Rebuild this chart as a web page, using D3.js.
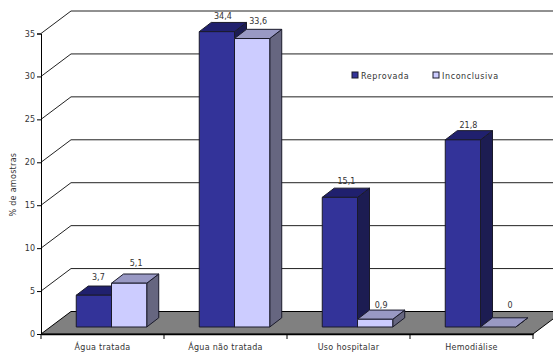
<!DOCTYPE html>
<html>
<head>
<meta charset="utf-8">
<script src="https://cdn.jsdelivr.net/npm/d3@7"></script>
<style>
    html, body { margin: 0; padding: 0; background: #fff; }
    svg { display: block; }
    text { font-family: "DejaVu Sans", Verdana, sans-serif; font-size: 8px; fill: #333; }
    .tick-x text { letter-spacing: 0.3px; }
    .legend text { letter-spacing: 0.6px; }
</style>
</head>
<body>
<svg id="chart"></svg>
<script>
const categories = ['Água tratada', 'Água não tratada', 'Uso hospitalar', 'Hemodiálise'];
const seriesNames = ['Reprovada', 'Inconclusiva'];
const reprovada = [3.7, 34.4, 15.1, 21.8];
const inconclusiva = [5.1, 33.6, 0.9, 0];
const yTicks = [0, 5, 10, 15, 20, 25, 30, 35];

const width = 553;
const height = 352;
const margin = { left: 41, right: 20, top: 33.5, bottom: 18 };

// depth of the plot box, and of the bars standing inside it
const depthX = 30, depthY = 22.5;
const barDepthX = 12, barDepthY = 9.2;
const barInsetX = 9, barInsetY = 7;

// hand placement of the value labels, per bar in drawing order
const labelLift = [6.5, 8.5, 3, 5, 4, 2, 3, 10];
const labelShift = [4.5, 7, 6, 6, 6.5, 6, 5.5, 12];

const colors = {
    Reprovada: { front: '#333399', top: '#20206e', side: '#1c1c52' },
    Inconclusiva: { front: '#ccccff', top: '#9999c4', side: '#666680' }
};

const svg = d3.select('#chart').attr('width', width).attr('height', height);

const x = d3.scaleBand()
    .domain(categories)
    .range([margin.left, width - margin.right]);

const xSeries = d3.scaleBand()
    .domain(seriesNames)
    .range([0, x.bandwidth()])
    .paddingOuter(0.745)
    .paddingInner(0);

const y = d3.scaleLinear()
    .domain([0, 35])
    .range([height - margin.bottom, margin.top]);

const pathOf = pts => d3.line()(pts) + 'Z';

// floor
const x0 = x.range()[0], x1 = x.range()[1], y0 = y(0);
svg.append('path')
    .attr('d', pathOf([[x0, y0], [x0 + depthX, y0 - depthY], [x1 + depthX, y0 - depthY], [x1, y0]]))
    .attr('fill', '#808080')
    .attr('stroke', '#000')
    .attr('stroke-width', 1);

// gridlines on the side wall and back wall
svg.append('g')
    .selectAll('path')
    .data(yTicks.filter(d => d > 0))
    .enter()
    .append('path')
    .attr('d', d => d3.line()([[x0, y(d)], [x0 + depthX, y(d) - depthY], [width, y(d) - depthY]]))
    .attr('fill', 'none')
    .attr('stroke', '#222')
    .attr('stroke-width', 1);

const rows = [];
categories.forEach((c, i) => {
    rows.push({ category: c, series: 'Reprovada', value: reprovada[i] });
    rows.push({ category: c, series: 'Inconclusiva', value: inconclusiva[i] });
});

const bars = svg.append('g')
    .selectAll('g')
    .data(rows)
    .enter()
    .append('g');

bars.each(function(d) {
    const g = d3.select(this);
    const left = x(d.category) + xSeries(d.series) + barInsetX;
    const right = left + xSeries.bandwidth();
    const base = y0 - barInsetY;
    const top = y(d.value) - barInsetY;
    const c = colors[d.series];

    g.append('path')
        .attr('d', pathOf([[right, base], [right + barDepthX, base - barDepthY], [right + barDepthX, top - barDepthY], [right, top]]))
        .attr('fill', c.side);
    g.append('path')
        .attr('d', pathOf([[left, top], [left + barDepthX, top - barDepthY], [right + barDepthX, top - barDepthY], [right, top]]))
        .attr('fill', c.top);
    if (d.value > 0) {
        g.append('rect')
            .attr('x', left)
            .attr('y', top)
            .attr('width', right - left)
            .attr('height', base - top)
            .attr('fill', c.front);
    }
    g.selectAll('path, rect')
        .attr('stroke', '#1a1a2a')
        .attr('stroke-width', 1)
        .attr('stroke-linejoin', 'round');
});

// value labels, decimal comma as printed
svg.append('g')
    .selectAll('text')
    .data(rows)
    .enter()
    .append('text')
    .attr('text-anchor', 'middle')
    .attr('x', (d, i) => x(d.category) + xSeries(d.series) + barInsetX + xSeries.bandwidth() / 2 + labelShift[i])
    .attr('y', (d, i) => y(d.value) - barInsetY - barDepthY - labelLift[i])
    .text(d => String(d.value).replace('.', ','));

// axes
const yAxis = svg.append('g')
    .attr('transform', `translate(${x0},0)`)
    .call(d3.axisLeft(y).tickValues(yTicks).tickSize(4).tickPadding(2).tickFormat(d3.format('d')));
yAxis.select('.domain').attr('stroke', '#000');
yAxis.selectAll('line').attr('stroke', '#000');

const xAxis = svg.append('g')
    .attr('class', 'tick-x')
    .attr('transform', `translate(0,${y0})`)
    .call(d3.axisBottom(x).tickSize(0).tickPadding(10));
xAxis.select('.domain').attr('stroke', '#000').attr('stroke-width', 1.5);

// category separators sit between the bands, not at their centres
xAxis.append('g')
    .selectAll('line')
    .data(d3.range(categories.length + 1))
    .enter()
    .append('line')
    .attr('x1', i => x0 + i * x.step())
    .attr('x2', i => x0 + i * x.step())
    .attr('y1', 0)
    .attr('y2', 5)
    .attr('stroke', '#000');

svg.append('text')
    .attr('transform', `translate(16,${y(17.4)}) rotate(-90)`)
    .attr('text-anchor', 'middle')
    .attr('letter-spacing', 0.3)
    .text('% de amostras');

// legend
const legendX = d3.scaleOrdinal().domain(seriesNames).range([352, 433]);
const legend = svg.append('g')
    .attr('class', 'legend')
    .selectAll('g')
    .data(seriesNames)
    .enter()
    .append('g')
    .attr('transform', d => `translate(${legendX(d)},72)`);

legend.append('rect')
    .attr('width', 6)
    .attr('height', 6)
    .attr('fill', d => colors[d].front)
    .attr('stroke', '#1a1a2a');

legend.append('text')
    .attr('x', 9)
    .attr('y', 6.5)
    .text(d => d);
</script>
</body>
</html>
